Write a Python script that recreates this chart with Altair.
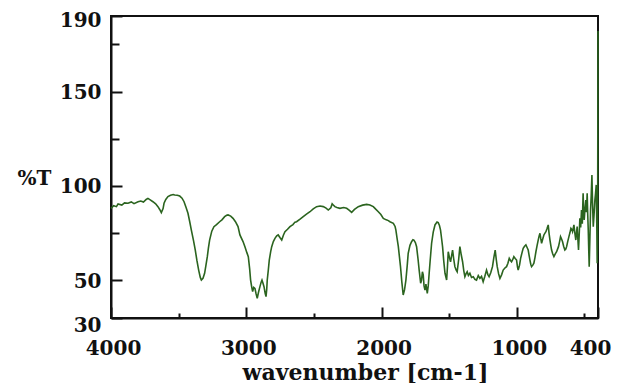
import altair as alt
import pandas as pd

# IR spectrum: wavenumber (cm-1) and percent transmittance
wavenumber = [
    4000, 3980, 3960, 3948, 3920, 3900, 3874, 3850, 3830, 3800, 3780, 3760, 3740, 3727,
    3710, 3690, 3670, 3653, 3640, 3628, 3615, 3608, 3595, 3579, 3560, 3540, 3529, 3510,
    3492, 3475, 3460, 3445, 3431, 3418, 3406, 3390, 3377, 3365, 3352, 3340, 3332, 3320,
    3308, 3298, 3288, 3280, 3271, 3255, 3239, 3220, 3197, 3180, 3160, 3145, 3135, 3115,
    3098, 3080, 3061, 3047, 3024, 3010, 2995, 2985, 2975, 2968, 2960, 2953, 2945, 2936,
    2928, 2919, 2910, 2899, 2890, 2884, 2877, 2869, 2860, 2854, 2849, 2845, 2837, 2830,
    2820, 2812, 2800, 2788, 2775, 2764, 2750, 2738, 2725, 2714, 2695, 2677, 2655, 2640,
    2628, 2600, 2579, 2555, 2529, 2505, 2480, 2455, 2431, 2410, 2394, 2375, 2365, 2357,
    2345, 2330, 2308, 2280, 2258, 2240, 2221, 2200, 2172, 2140, 2110, 2086, 2061, 2045,
    2024, 2005, 1987, 1965, 1950, 1938, 1913, 1900, 1894, 1885, 1876, 1868, 1860, 1850,
    1840, 1830, 1820, 1810, 1803, 1790, 1778, 1768, 1761, 1750, 1741, 1730, 1722, 1711,
    1705, 1698, 1692, 1686, 1679, 1672, 1667, 1662, 1655, 1648, 1640, 1630, 1618, 1605,
    1590, 1581, 1572, 1564, 1556, 1549, 1540, 1531, 1519, 1513, 1507, 1498, 1490, 1482,
    1475, 1466, 1458, 1449, 1441, 1430, 1421, 1411, 1401, 1392, 1384, 1375, 1367, 1358,
    1347, 1335, 1322, 1310, 1298, 1285, 1273, 1261, 1249, 1237, 1224, 1214, 1205, 1193,
    1180, 1170, 1160, 1152, 1145, 1135, 1125, 1112, 1101, 1088, 1076, 1066, 1056, 1047,
    1039, 1030, 1022, 1012, 1002, 995, 990, 980, 972, 962, 953, 943, 933, 925,
    916, 909, 903, 897, 891, 882, 874, 866, 859, 850, 842, 835, 829, 823,
    817, 808, 800, 792, 785, 776, 768, 762, 755, 749, 743, 735, 726, 716,
    706, 699, 692, 684, 677, 670, 662, 654, 645, 638, 632, 624, 615, 608,
    600, 594, 588, 583, 578, 571, 564, 559, 554, 549, 544, 539, 534, 528,
    522, 516, 510, 506, 502, 496, 490, 485, 480, 476, 472, 468, 465, 460,
    455, 450, 445, 440, 435, 429, 423, 418, 413, 409, 406, 403, 400,
]
transmittance = [
    88.1, 89.5, 89.0, 90.4, 89.8, 91.0, 90.8, 91.5, 90.6, 91.6, 92.0, 91.4, 92.8, 93.4,
    92.6, 91.6, 90.5, 89.0, 87.5, 85.8, 88.0, 90.8, 92.8, 94.3, 95.0, 95.4, 95.2, 95.0,
    94.6, 93.5, 91.6, 88.5, 85.5, 81.0, 76.6, 71.0, 66.0, 60.5, 55.4, 51.5, 50.1, 51.0,
    53.7, 58.0, 62.5, 67.0, 71.3, 76.0, 78.4, 79.5, 81.0, 82.0, 83.7, 84.4, 84.6, 84.0,
    82.8, 81.0, 78.4, 74.0, 70.5, 67.8, 64.5, 62.5, 56.0, 50.1, 46.5, 44.0, 46.2, 45.7,
    43.0, 40.4, 43.5, 46.6, 49.0, 50.1, 48.5, 46.6, 43.0, 41.3, 45.0, 50.1, 55.5, 60.7,
    65.0, 67.8, 70.5, 72.2, 73.5, 74.0, 72.5, 71.3, 74.0, 75.7, 77.0, 78.4, 79.5, 80.8,
    81.0, 82.5, 83.7, 85.0, 86.3, 87.8, 89.0, 89.3, 89.0, 88.2, 87.2, 88.4, 90.5, 89.9,
    89.0, 88.6, 88.1, 88.5, 88.1, 87.2, 86.0, 87.5, 89.0, 89.8, 90.2, 89.9, 89.0, 87.8,
    86.3, 84.8, 82.8, 82.0, 81.6, 81.0, 80.2, 78.5, 76.6, 72.0, 67.8, 62.5, 57.2, 49.0,
    42.2, 45.0, 50.1, 58.0, 64.3, 68.5, 70.4, 71.5, 71.3, 70.0, 67.8, 61.0, 55.4, 48.4,
    50.0, 54.5, 52.8, 47.0, 44.8, 48.0, 45.5, 43.1, 47.0, 53.7, 61.0, 69.6, 75.5, 79.3,
    80.8, 80.5, 79.0, 76.6, 72.0, 67.8, 60.0, 53.7, 50.1, 57.0, 65.1, 62.0, 59.8, 63.0,
    66.0, 61.0, 57.2, 55.5, 54.5, 61.0, 67.8, 63.5, 59.8, 55.0, 51.9, 53.5, 54.5, 52.5,
    53.7, 51.5, 51.9, 50.5, 50.1, 52.5, 51.0, 52.0, 49.2, 52.0, 55.4, 53.0, 51.9, 54.0,
    57.2, 62.0, 66.0, 61.0, 57.2, 53.5, 51.0, 53.0, 55.4, 56.5, 57.2, 59.0, 61.6, 60.5,
    59.8, 61.0, 62.5, 61.5, 60.7, 57.0, 55.4, 58.0, 61.6, 64.5, 66.9, 68.0, 68.7, 67.5,
    66.0, 63.0, 60.7, 58.5, 57.2, 58.0, 59.0, 62.0, 65.1, 68.5, 71.3, 73.5, 74.9, 72.0,
    69.6, 72.0, 74.0, 75.0, 75.7, 77.5, 79.3, 75.0, 71.3, 68.5, 66.0, 64.0, 62.5, 64.0,
    65.1, 66.5, 67.8, 70.5, 73.1, 72.0, 70.4, 68.0, 66.0, 66.5, 67.8, 70.5, 73.1, 75.0,
    77.5, 77.0, 75.7, 77.5, 79.3, 75.0, 71.3, 75.0, 78.4, 72.0, 66.0, 74.0, 82.8, 78.0,
    87.2, 80.0, 96.1, 86.0, 82.0, 88.0, 92.5, 86.0, 96.1, 85.0, 76.6, 65.0, 57.2, 72.0,
    87.2, 95.0, 105.8, 90.0, 78.4, 85.0, 92.5, 96.0, 100.5, 80.0, 59.0, 70.0, 182.0,
]

x_tick_values = [4000, 3500, 3000, 2500, 2000, 1500, 1000, 500, 400]
x_label_values = [4000, 3000, 2000, 1000, 400]
y_tick_values = [30, 50, 75, 100, 125, 150, 175, 190]
y_label_values = [30, 50, 100, 150, 190]

df = pd.DataFrame({"wavenumber": wavenumber, "T": transmittance})

FONT = "DejaVu Serif"
INK = "#111111"


def show_only(values):
    return f"indexof({values}, datum.value) >= 0 ? datum.label : ''"


x_axis = alt.Axis(
    values=x_tick_values,
    format="d",
    labelExpr=show_only(x_label_values),
    labelFlush=False,
    labelOverlap=False,
    labelFont=FONT,
    labelFontSize=20,
    labelFontWeight="bold",
    labelColor=INK,
    labelBaseline="top",
    labelPadding=31,
    labelOffset={"condition": {"test": "datum.value === 400", "value": -8}, "value": 2},
    # inward-pointing ticks: long at labelled values, short in between
    tickSize={"condition": {"test": "datum.value % 1000 === 0 || datum.value === 400",
                            "value": -11}, "value": -5},
    tickWidth=2,
    tickColor=INK,
    domainColor=INK,
    domainWidth=2,
    grid=False,
    title="wavenumber [cm-1]",
    titleFont=FONT,
    titleFontSize=22,
    titleFontWeight="bold",
    titleColor=INK,
    titleAlign="center",
    titleBaseline="alphabetic",
    titleX=254,
    titleY=61,
)

y_axis = alt.Axis(
    values=y_tick_values,
    format="d",
    labelExpr=show_only(y_label_values),
    labelFlush=False,
    labelOverlap=False,
    labelFont=FONT,
    labelFontSize=20,
    labelFontWeight="bold",
    labelColor=INK,
    labelPadding=21,
    labelOffset={"condition": [{"test": "datum.value === 30", "value": 7},
                               {"test": "datum.value === 190", "value": 4}],
                 "value": 1},
    tickSize={"condition": {"test": "datum.value % 50 === 0 || datum.value === 30 || datum.value === 190",
                            "value": -11}, "value": -8},
    tickWidth=2,
    tickColor=INK,
    domainColor=INK,
    domainWidth=2,
    grid=False,
    title="%T",
    titleFont=FONT,
    titleFontSize=20,
    titleFontWeight="bold",
    titleColor=INK,
    titleAngle=0,
    titleAlign="center",
    titleBaseline="middle",
    titleX=-77,
    titleY=162,
)

chart = (
    alt.Chart(df)
    .mark_line(color="#2b641f", strokeWidth=1.6)
    .encode(
        x=alt.X("wavenumber:Q",
                scale=alt.Scale(domain=[400, 4000], reverse=True, nice=False, zero=False),
                axis=x_axis),
        y=alt.Y("T:Q",
                scale=alt.Scale(domain=[30, 190], nice=False, zero=False),
                axis=y_axis),
    )
    .properties(
        width=487,
        height=302,
        autosize=alt.AutoSizeParams(type="none"),
        padding={"left": 111, "top": 16, "right": 26, "bottom": 65},
        background="white",
    )
    .configure_view(stroke=INK, strokeWidth=2)
)

chart.save("out.html", embed_options={"renderer": "svg", "actions": False})
